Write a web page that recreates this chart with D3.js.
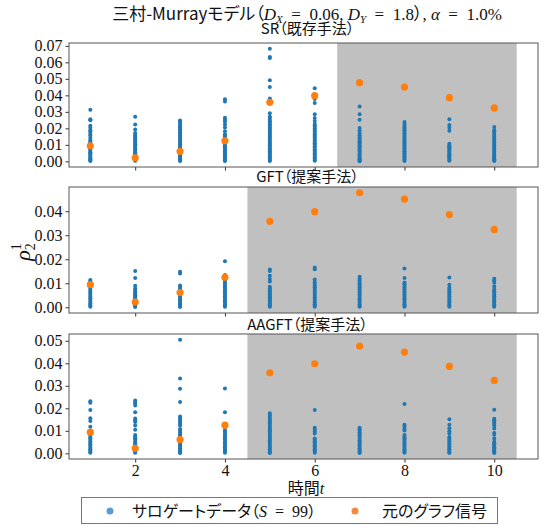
<!DOCTYPE html>
<html>
<head>
<meta charset="utf-8">
<script src="https://cdn.jsdelivr.net/npm/d3@7"></script>
<style>
  body { margin: 0; background: #fff; }
  svg { display: block; }
  .jp { font-family: 'Noto Sans CJK JP', 'Noto Sans', sans-serif; font-feature-settings: "palt"; }
  .math { font-family: 'Liberation Serif', 'DejaVu Serif', serif; }
</style>
</head>
<body>
<svg id="chart"></svg>
<script>
const width = 547;
const height = 526;

// time steps
const times = [1, 2, 3, 4, 5, 6, 7, 8, 9, 10];

// original graph signal (same in every panel)
const originalSignal = [0.0094, 0.0022, 0.0061, 0.0125, 0.0358, 0.0398, 0.0477, 0.0450, 0.0386, 0.0324];

// surrogate values, one list per time step
const srSurrogates = [
    [0.0312, 0.0255, 0.0249, 0.0216, 0.0204, 0.0188, 0.0179, 0.0168, 0.0157, 0.0142, 0.0128, 0.0119, 0.0111, 0.0103, 0.0094, 0.0087, 0.0079, 0.0071, 0.0063, 0.0055, 0.0048, 0.0041, 0.0033, 0.0026, 0.0019, 0.0012, 0.0006, 0.0002],
    [0.0271, 0.0224, 0.0193, 0.0172, 0.0162, 0.0153, 0.0145, 0.0137, 0.0128, 0.0119, 0.0111, 0.0104, 0.0096, 0.0088, 0.0079, 0.0071, 0.0063, 0.0056, 0.0049, 0.0042, 0.0035, 0.0028, 0.0021, 0.0014, 0.0008, 0.0003],
    [0.0248, 0.0241, 0.0232, 0.0221, 0.0212, 0.0203, 0.0194, 0.0184, 0.0176, 0.0166, 0.0157, 0.0148, 0.0139, 0.0129, 0.0121, 0.0112, 0.0104, 0.0095, 0.0086, 0.0078, 0.0069, 0.0061, 0.0053, 0.0045, 0.0037, 0.0029, 0.0021, 0.0013, 0.0007, 0.0002],
    [0.0376, 0.0362, 0.0265, 0.0252, 0.0241, 0.0224, 0.0205, 0.0183, 0.0165, 0.0156, 0.0147, 0.0137, 0.0128, 0.0119, 0.0110, 0.0101, 0.0093, 0.0085, 0.0077, 0.0069, 0.0061, 0.0053, 0.0045, 0.0037, 0.0029, 0.0021, 0.0014, 0.0007, 0.0002],
    [0.0683, 0.0632, 0.0627, 0.0492, 0.0451, 0.0381, 0.0372, 0.0291, 0.0271, 0.0262, 0.0251, 0.0242, 0.0233, 0.0224, 0.0214, 0.0205, 0.0196, 0.0187, 0.0178, 0.0169, 0.0160, 0.0151, 0.0142, 0.0133, 0.0124, 0.0115, 0.0106, 0.0097, 0.0088, 0.0079, 0.0070, 0.0062, 0.0054, 0.0046, 0.0038, 0.0030, 0.0022, 0.0015, 0.0008, 0.0002],
    [0.0443, 0.0378, 0.0353, 0.0286, 0.0262, 0.0245, 0.0226, 0.0217, 0.0208, 0.0199, 0.0190, 0.0181, 0.0172, 0.0163, 0.0154, 0.0145, 0.0136, 0.0127, 0.0118, 0.0109, 0.0100, 0.0091, 0.0082, 0.0073, 0.0064, 0.0056, 0.0048, 0.0040, 0.0032, 0.0024, 0.0016, 0.0009, 0.0003],
    [0.0332, 0.0286, 0.0252, 0.0202, 0.0188, 0.0172, 0.0158, 0.0146, 0.0138, 0.0130, 0.0122, 0.0114, 0.0106, 0.0098, 0.0090, 0.0082, 0.0074, 0.0066, 0.0058, 0.0050, 0.0042, 0.0034, 0.0026, 0.0018, 0.0011, 0.0005, 0.0001],
    [0.0239, 0.0226, 0.0216, 0.0206, 0.0197, 0.0188, 0.0178, 0.0169, 0.0160, 0.0151, 0.0142, 0.0133, 0.0124, 0.0115, 0.0106, 0.0097, 0.0088, 0.0079, 0.0070, 0.0062, 0.0054, 0.0046, 0.0038, 0.0030, 0.0022, 0.0015, 0.0008, 0.0002],
    [0.0255, 0.0221, 0.0205, 0.0186, 0.0106, 0.0099, 0.0092, 0.0085, 0.0078, 0.0071, 0.0064, 0.0057, 0.0050, 0.0043, 0.0036, 0.0029, 0.0022, 0.0015, 0.0009, 0.0003],
    [0.0208, 0.0190, 0.0182, 0.0172, 0.0162, 0.0150, 0.0141, 0.0132, 0.0123, 0.0114, 0.0105, 0.0096, 0.0087, 0.0078, 0.0069, 0.0060, 0.0052, 0.0044, 0.0036, 0.0028, 0.0020, 0.0013, 0.0007, 0.0002]
];

const gftSurrogates = [
    [0.0114, 0.0108, 0.0101, 0.0094, 0.0087, 0.0080, 0.0073, 0.0066, 0.0059, 0.0052, 0.0045, 0.0038, 0.0031, 0.0024, 0.0017, 0.0011, 0.0006, 0.0002],
    [0.0151, 0.0122, 0.0090, 0.0078, 0.0072, 0.0065, 0.0060, 0.0055, 0.0050, 0.0045, 0.0040, 0.0035, 0.0030, 0.0025, 0.0020, 0.0015, 0.0010, 0.0005, 0.0001],
    [0.0148, 0.0141, 0.0091, 0.0084, 0.0077, 0.0071, 0.0064, 0.0058, 0.0052, 0.0046, 0.0040, 0.0034, 0.0028, 0.0022, 0.0016, 0.0010, 0.0005, 0.0001],
    [0.0192, 0.0134, 0.0127, 0.0121, 0.0115, 0.0109, 0.0102, 0.0095, 0.0088, 0.0081, 0.0074, 0.0067, 0.0060, 0.0053, 0.0046, 0.0039, 0.0032, 0.0025, 0.0018, 0.0012, 0.0006, 0.0002],
    [0.0157, 0.0151, 0.0131, 0.0118, 0.0107, 0.0085, 0.0078, 0.0072, 0.0066, 0.0060, 0.0054, 0.0048, 0.0042, 0.0036, 0.0030, 0.0024, 0.0018, 0.0012, 0.0007, 0.0002],
    [0.0166, 0.0158, 0.0116, 0.0104, 0.0097, 0.0090, 0.0083, 0.0076, 0.0069, 0.0062, 0.0055, 0.0048, 0.0041, 0.0034, 0.0027, 0.0020, 0.0013, 0.0007, 0.0002],
    [0.0127, 0.0119, 0.0111, 0.0103, 0.0096, 0.0089, 0.0082, 0.0075, 0.0068, 0.0061, 0.0054, 0.0047, 0.0040, 0.0033, 0.0026, 0.0019, 0.0012, 0.0006, 0.0002],
    [0.0161, 0.0122, 0.0103, 0.0096, 0.0089, 0.0082, 0.0075, 0.0068, 0.0061, 0.0054, 0.0047, 0.0040, 0.0033, 0.0026, 0.0019, 0.0012, 0.0006, 0.0002],
    [0.0124, 0.0094, 0.0081, 0.0074, 0.0067, 0.0060, 0.0053, 0.0046, 0.0039, 0.0032, 0.0025, 0.0018, 0.0012, 0.0006, 0.0002],
    [0.0119, 0.0111, 0.0102, 0.0087, 0.0074, 0.0067, 0.0060, 0.0053, 0.0046, 0.0039, 0.0032, 0.0025, 0.0018, 0.0012, 0.0006, 0.0002]
];

const aagftSurrogates = [
    [0.0231, 0.0225, 0.0193, 0.0156, 0.0144, 0.0118, 0.0088, 0.0081, 0.0074, 0.0067, 0.0060, 0.0053, 0.0046, 0.0039, 0.0032, 0.0025, 0.0018, 0.0012, 0.0006, 0.0002],
    [0.0235, 0.0228, 0.0221, 0.0213, 0.0183, 0.0155, 0.0147, 0.0139, 0.0124, 0.0105, 0.0081, 0.0074, 0.0067, 0.0060, 0.0053, 0.0046, 0.0039, 0.0032, 0.0025, 0.0018, 0.0012, 0.0006, 0.0002],
    [0.0505, 0.0332, 0.0287, 0.0228, 0.0164, 0.0156, 0.0148, 0.0140, 0.0132, 0.0124, 0.0108, 0.0100, 0.0092, 0.0085, 0.0078, 0.0071, 0.0064, 0.0057, 0.0050, 0.0043, 0.0036, 0.0029, 0.0022, 0.0015, 0.0009, 0.0004, 0.0001],
    [0.0288, 0.0183, 0.0104, 0.0097, 0.0090, 0.0083, 0.0076, 0.0069, 0.0062, 0.0055, 0.0048, 0.0041, 0.0034, 0.0027, 0.0020, 0.0013, 0.0007, 0.0002],
    [0.0178, 0.0170, 0.0162, 0.0154, 0.0146, 0.0138, 0.0130, 0.0122, 0.0114, 0.0106, 0.0098, 0.0090, 0.0082, 0.0074, 0.0066, 0.0058, 0.0050, 0.0042, 0.0034, 0.0026, 0.0018, 0.0011, 0.0005, 0.0001],
    [0.0193, 0.0114, 0.0106, 0.0097, 0.0088, 0.0066, 0.0060, 0.0054, 0.0048, 0.0042, 0.0036, 0.0030, 0.0024, 0.0018, 0.0012, 0.0006, 0.0002],
    [0.0114, 0.0107, 0.0100, 0.0093, 0.0086, 0.0079, 0.0072, 0.0065, 0.0058, 0.0051, 0.0044, 0.0037, 0.0030, 0.0023, 0.0016, 0.0010, 0.0005, 0.0001],
    [0.0219, 0.0127, 0.0118, 0.0108, 0.0101, 0.0081, 0.0074, 0.0067, 0.0060, 0.0053, 0.0046, 0.0039, 0.0032, 0.0025, 0.0018, 0.0012, 0.0006, 0.0002],
    [0.0151, 0.0127, 0.0111, 0.0098, 0.0088, 0.0073, 0.0066, 0.0059, 0.0052, 0.0045, 0.0038, 0.0031, 0.0024, 0.0017, 0.0011, 0.0005, 0.0001],
    [0.0194, 0.0154, 0.0147, 0.0140, 0.0132, 0.0124, 0.0110, 0.0090, 0.0082, 0.0066, 0.0051, 0.0045, 0.0039, 0.0033, 0.0027, 0.0021, 0.0015, 0.0010, 0.0005, 0.0001]
];

// tick labels
const xTicks = [2, 4, 6, 8, 10];
const srTicks = [0, 0.01, 0.02, 0.03, 0.04, 0.05, 0.06, 0.07];
const gftTicks = [0, 0.01, 0.02, 0.03, 0.04];
const aagftTicks = [0, 0.01, 0.02, 0.03, 0.04, 0.05];

const panelTitles = ["SR（既存手法）", "GFT（提案手法）", "AAGFT（提案手法）"];
const shadeRanges = [[6.5, 10.5], [4.5, 10.5], [4.5, 10.5]];

const blue = "#1f77b4";
const orange = "#ff7f0e";
const sp = "\u2002"; // wide math spacing around "="

const panels = [
    { title: panelTitles[0], data: srSurrogates, ticks: srTicks, shade: shadeRanges[0], top: 43, bottom: 167, titleY: 34 },
    { title: panelTitles[1], data: gftSurrogates, ticks: gftTicks, shade: shadeRanges[1], top: 187, bottom: 313, titleY: 182 },
    { title: panelTitles[2], data: aagftSurrogates, ticks: aagftTicks, shade: shadeRanges[2], top: 334, bottom: 459, titleY: 330 }
];

const left = 69, right = 538;

const svg = d3.select("#chart")
    .attr("width", width)
    .attr("height", height)
    .style("background", "#fff");

// shared x scale (limits include the shaded span, like matplotlib autoscale)
const x = d3.scaleLinear().domain([0.525, 10.975]).range([left, right]);

panels.forEach((p, i) => {
    const flat = p.data.flat().concat(originalSignal);
    const lo = 0, hi = d3.max(flat);
    const pad = (hi - lo) * 0.05;
    const y = d3.scaleLinear().domain([lo - pad, hi + pad]).range([p.bottom, p.top]);

    const g = svg.append("g");

    // shaded span
    g.append("rect")
        .attr("x", x(p.shade[0]))
        .attr("y", p.top)
        .attr("width", x(p.shade[1]) - x(p.shade[0]))
        .attr("height", p.bottom - p.top)
        .attr("fill", "#c0c0c0");

    // surrogate points
    const pts = [];
    p.data.forEach((vals, k) => vals.forEach(v => pts.push({ t: times[k], v: v })));
    g.append("g")
        .selectAll("circle")
        .data(pts)
        .enter().append("circle")
        .attr("cx", d => x(d.t))
        .attr("cy", d => y(d.v))
        .attr("r", 2)
        .attr("fill", blue);

    // original signal
    g.append("g")
        .selectAll("circle")
        .data(times)
        .enter().append("circle")
        .attr("cx", d => x(d))
        .attr("cy", (d, k) => y(originalSignal[k]))
        .attr("r", 3.6)
        .attr("fill", orange);

    // y axis
    const yAxis = g.append("g")
        .attr("transform", `translate(${left},0)`)
        .call(d3.axisLeft(y).tickValues(p.ticks).tickFormat(d3.format(".2f")).tickSize(3.5).tickPadding(3));
    yAxis.select(".domain").remove();
    yAxis.selectAll("line").attr("stroke", "#333");
    yAxis.selectAll("text")
        .attr("class", "math")
        .style("font-size", "16px")
        .attr("fill", "#111");

    // x axis (labels only on the last panel)
    const xAxis = g.append("g")
        .attr("transform", `translate(0,${p.bottom})`)
        .call(d3.axisBottom(x).tickValues(xTicks).tickSize(3.5).tickPadding(2)
            .tickFormat(i === panels.length - 1 ? d3.format("d") : ""));
    xAxis.select(".domain").remove();
    xAxis.selectAll("line").attr("stroke", "#333");
    xAxis.selectAll("text")
        .attr("class", "math")
        .style("font-size", "16px")
        .attr("fill", "#111");

    // frame
    g.append("rect")
        .attr("x", left)
        .attr("y", p.top)
        .attr("width", right - left)
        .attr("height", p.bottom - p.top)
        .attr("fill", "none")
        .attr("stroke", "#555")
        .attr("stroke-width", 1);

    // panel title
    svg.append("text")
        .attr("class", "jp")
        .attr("x", (left + right) / 2 + 4)
        .attr("y", p.titleY)
        .attr("text-anchor", "middle")
        .style("font-size", "15px")
        .attr("fill", "#111")
        .text(p.title);
});

// main title, mixed text and math
const title = svg.append("text")
    .attr("x", 307)
    .attr("y", 20)
    .attr("text-anchor", "middle")
    .style("font-size", "17px")
    .attr("fill", "#111");
title.append("tspan").attr("class", "jp").text("三村-Murrayモデル（");
title.append("tspan").attr("class", "math").style("font-style", "italic").text("D");
title.append("tspan").attr("class", "math").style("font-style", "italic").style("font-size", "11px").attr("dy", 2.5).text("X");
title.append("tspan").attr("class", "math").attr("dy", -2.5).text(`${sp}=${sp}0.06, `);
title.append("tspan").attr("class", "math").style("font-style", "italic").text("D");
title.append("tspan").attr("class", "math").style("font-style", "italic").style("font-size", "11px").attr("dy", 2.5).text("Y");
title.append("tspan").attr("class", "math").attr("dy", -2.5).text(`${sp}=${sp}1.8`);
title.append("tspan").attr("class", "jp").text("）");
title.append("tspan").attr("class", "math").text(", ");
title.append("tspan").attr("class", "math").style("font-style", "italic").text("α");
title.append("tspan").attr("class", "math").text(`${sp}=${sp}1.0%`);

// y label rho_2^1
const yLabel = svg.append("text")
    .attr("class", "math")
    .attr("transform", "translate(30,252) rotate(-90)")
    .attr("text-anchor", "middle")
    .attr("fill", "#111");
yLabel.append("tspan").style("font-style", "italic").style("font-size", "22px").text("ρ");
yLabel.append("tspan").style("font-size", "14px").attr("dy", 5).text("2");
yLabel.append("tspan").style("font-size", "14px").attr("dx", -7).attr("dy", -14).text("1");

// x label
const xLabel = svg.append("text")
    .attr("x", 306)
    .attr("y", 494)
    .attr("text-anchor", "middle")
    .style("font-size", "16px")
    .attr("fill", "#111");
xLabel.append("tspan").attr("class", "jp").text("時間");
xLabel.append("tspan").attr("class", "math").style("font-style", "italic").text("t");

// legend
const legend = svg.append("g");
legend.append("rect")
    .attr("x", 81.5)
    .attr("y", 497.5)
    .attr("width", 416)
    .attr("height", 26)
    .attr("fill", "#fff")
    .attr("stroke", "#777");
legend.append("circle").attr("cx", 110).attr("cy", 511).attr("r", 3.5).attr("fill", "#5b9bd5");
const lt1 = legend.append("text")
    .attr("x", 132)
    .attr("y", 517)
    .style("font-size", "16px")
    .attr("fill", "#111");
lt1.append("tspan").attr("class", "jp").text("サロゲートデータ（");
lt1.append("tspan").attr("class", "math").style("font-style", "italic").text("S");
lt1.append("tspan").attr("class", "math").text(`${sp}=${sp}99`);
lt1.append("tspan").attr("class", "jp").text("）");
legend.append("circle").attr("cx", 355).attr("cy", 511).attr("r", 3.5).attr("fill", "#f58a3c");
legend.append("text")
    .attr("class", "jp")
    .attr("x", 382)
    .attr("y", 517)
    .style("font-size", "16px")
    .attr("fill", "#111")
    .text("元のグラフ信号");
</script>
</body>
</html>
